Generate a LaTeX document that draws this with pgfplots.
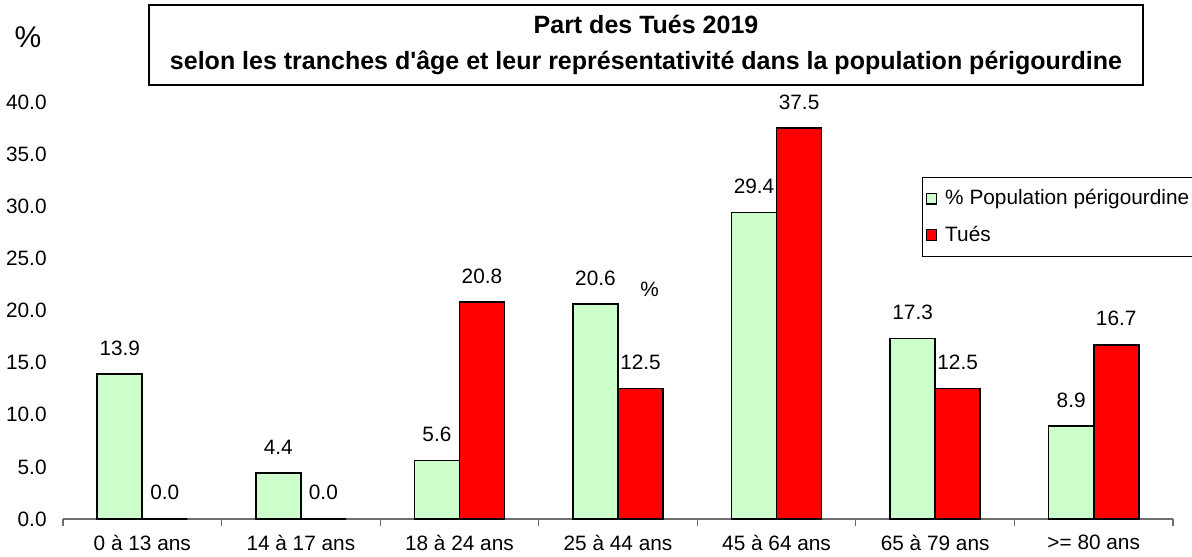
\documentclass[border=0pt]{standalone}
\usepackage{fontspec}
\setmainfont{Liberation Sans}
\usepackage{pgfplots}
\pgfplotsset{compat=1.18}
\definecolor{popgreen}{RGB}{204,255,204}
\definecolor{tuered}{RGB}{255,0,0}
\definecolor{axgray}{RGB}{110,110,110}

\pgfplotstableread{
x pop tues
0 13.9 0.0
1 4.4 0.0
2 5.6 20.8
3 20.6 12.5
4 29.4 37.5
5 17.3 12.5
6 8.9 16.7
}\datatable

\newcommand\lblfont{\fontsize{10.4}{12}\selectfont}

\begin{document}
\begin{tikzpicture}
\path[use as bounding box] (0,0) rectangle (596pt,278pt);
\begin{axis}[
    at={(31.5pt,18.5pt)}, anchor=south west,
    scale only axis,
    width=555pt, height=208.5pt,
    xmin=-0.5, xmax=6.5,
    ymin=0, ymax=40,
    ytick={0,5,...,40},
    xtick={0,...,6},
    xticklabels={0 à 13 ans,14 à 17 ans,18 à 24 ans,25 à 44 ans,45 à 64 ans,65 à 79 ans,>= 80 ans},
    minor xtick={-0.5,0.5,...,6.5},
    major tick length=0pt,
    minor tick length=3.5pt,
    tick align=outside,
    axis x line*=bottom,
    axis y line*=left,
    y axis line style={draw=none},
    x axis line style={draw=axgray, line width=0.6pt},
    minor tick style={draw=axgray, line width=0.6pt},
    xtick pos=bottom,
    /pgf/number format/assume math mode=true,
    /pgf/number format/fixed,
    /pgf/number format/fixed zerofill,
    /pgf/number format/precision=1,
    yticklabel style={anchor=east, inner sep=0pt, xshift=-8pt},
    xticklabel style={anchor=north, inner sep=0pt, yshift=-8pt},
    tick label style={font=\lblfont},
    ybar,
    bar width=0.284,
    nodes near coords,
    every node near coord/.append style={font=\lblfont, anchor=south, inner sep=0pt, yshift=9pt},
    legend cell align=left,
    legend style={at={(0.774,0.82)}, anchor=north west, draw=black, line width=0.5pt,
        font=\lblfont, inner xsep=1.5pt, inner ysep=4pt, row sep=5pt,
        nodes={inner xsep=2pt}},
    legend image code/.code={\draw[#1, line width=0.6pt] (1pt,-2.6pt) rectangle (6.2pt,2.6pt);},
    clip=false,
]
\addplot[fill=popgreen, draw=black, line width=0.8pt, bar shift=-0.142] table[x=x, y=pop] {\datatable};
\addplot[fill=tuered, draw=black, line width=0.8pt, bar shift=0.142] table[x=x, y=tues] {\datatable};
\legend{\hspace{2pt}\% Population périgourdine, \hspace{2pt}Tués}
\node[font=\lblfont] at (axis cs:3.20,22.06) {\%};
\end{axis}
\draw[line width=0.6pt] (74.5pt,235.5pt) rectangle (571.5pt,275.5pt);
\node[font=\bfseries\fontsize{12.5}{14}\selectfont] at (323pt,266pt) {Part des Tués 2019};
\node[font=\bfseries\fontsize{12.5}{14}\selectfont] at (323pt,246.5pt) {selon les tranches d\textquotesingle âge et leur représentativité dans la population périgourdine};
\node[font=\fontsize{15}{17}\selectfont] at (14pt,259.5pt) {\%};
\end{tikzpicture}
\end{document}
